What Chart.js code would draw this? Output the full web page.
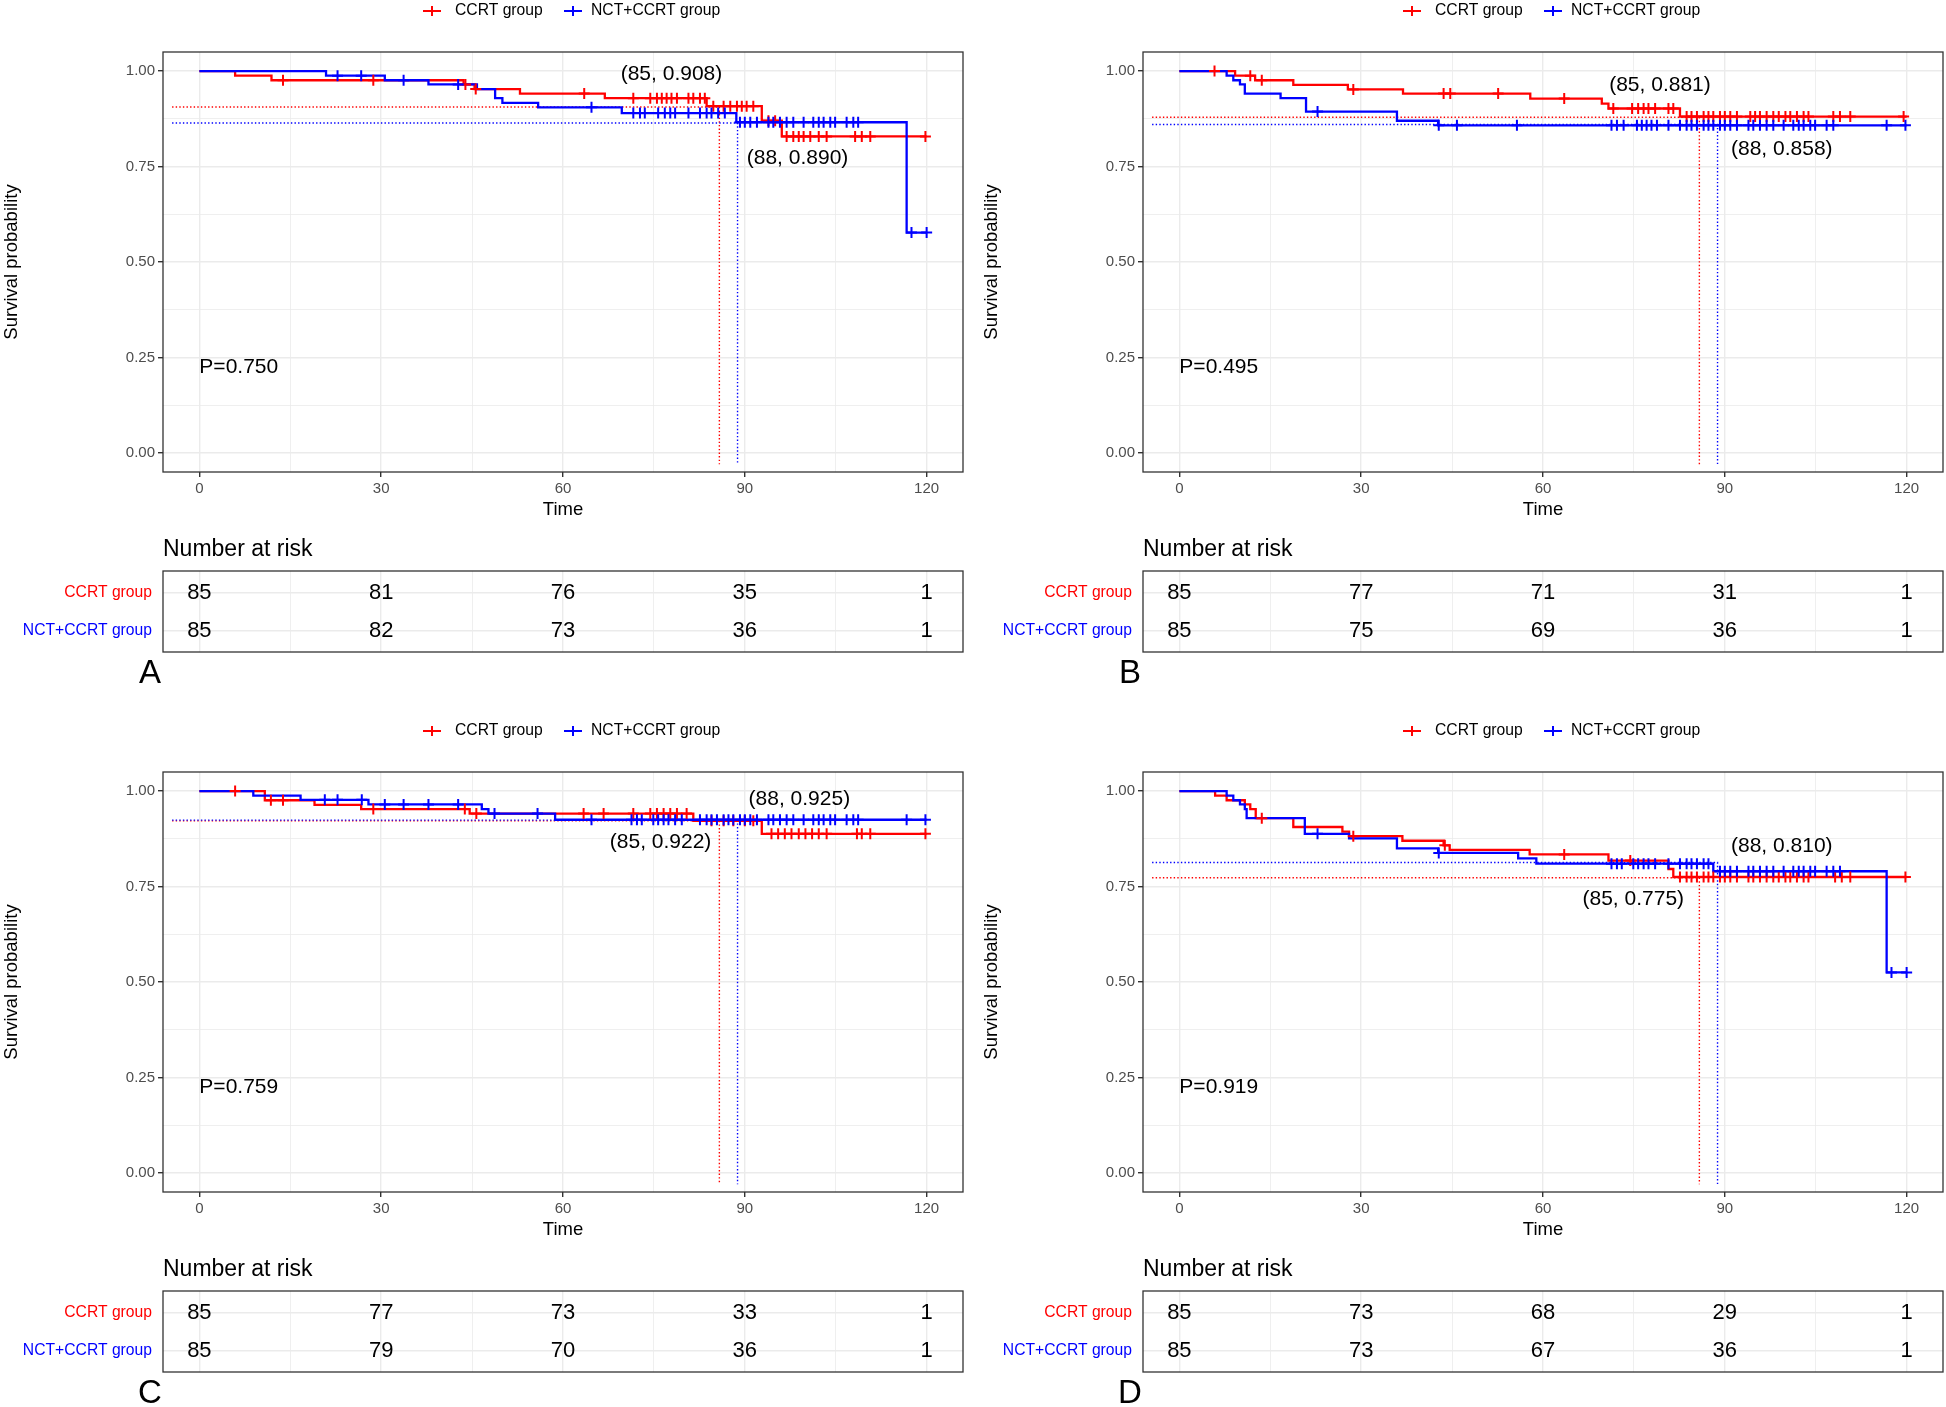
<!DOCTYPE html>
<html>
<head>
<meta charset="utf-8">
<script src="https://cdn.jsdelivr.net/npm/chart.js@4.4.1/dist/chart.umd.min.js"></script>
<style>
  html, body { margin: 0; padding: 0; background: #fff; }
  body { width: 1946px; height: 1407px; position: relative; overflow: hidden; }
  .cell { position: absolute; }
</style>
</head>
<body>
<script>
// ---- shared axis values ----
const xGrid = [0, 15, 30, 45, 60, 75, 90, 105, 120];
const yGrid = [0, 0.125, 0.25, 0.375, 0.5, 0.625, 0.75, 0.875, 1];
const riskTimes = [0, 30, 60, 90, 120];
const groups = ['CCRT group', 'NCT+CCRT group'];

// ---- panel A ----
const aCcrtTime = [0, 5.9, 11.9, 43.6, 45.4, 52.9, 66.9, 83.7, 92.8, 96.1, 120];
const aCcrtSurv = [1, 0.988, 0.976, 0.965, 0.953, 0.941, 0.929, 0.908, 0.870, 0.829, 0.829];
const aCcrtCens = [13.8, 28.7, 43.9, 45.6, 63.5, 71.6, 74.4, 75.5, 76.3, 77.1, 77.9, 78.8, 80.7, 81.5, 82.6, 83.4, 84.8, 86.5, 87.6, 88.7, 89.5, 90.3, 91.4, 93.9, 95.0, 96.9, 98.0, 98.9, 99.7, 100.8, 102.2, 103.5, 108.2, 109.3, 110.7, 119.8];
const aNctTime = [0, 20.9, 30.6, 37.8, 45.8, 48.8, 50.0, 55.9, 69.7, 88.6, 116.7, 120];
const aNctSurv = [1, 0.988, 0.976, 0.965, 0.953, 0.929, 0.917, 0.905, 0.890, 0.866, 0.577, 0.577];
const aNctCens = [22.8, 26.7, 33.7, 42.7, 64.7, 71.6, 72.7, 73.5, 75.7, 76.8, 77.7, 78.5, 80.7, 82.6, 83.7, 84.5, 85.6, 86.7, 89.2, 90.0, 90.9, 92.0, 93.9, 94.7, 95.8, 96.9, 98.0, 99.7, 101.3, 102.2, 103.0, 104.1, 104.9, 106.8, 107.9, 108.7, 117.5, 120];
const aRiskCcrt = [85, 81, 76, 35, 1];
const aRiskNct = [85, 82, 73, 36, 1];
const aRefs = [[85.8, 0.906], [88.8, 0.864]];
const aNotes = [['(85, 0.908)', 77.9, 0.992], ['(88, 0.890)', 98.7, 0.771]];

// ---- panel B ----
const bCcrtTime = [0, 9.2, 12.5, 18.8, 27.8, 36.9, 57.9, 69.7, 70.8, 82.6, 120];
const bCcrtSurv = [1, 0.988, 0.976, 0.964, 0.952, 0.941, 0.928, 0.915, 0.902, 0.881, 0.881];
const bCcrtCens = [5.8, 11.7, 13.6, 28.7, 43.6, 44.7, 52.6, 63.5, 71.6, 74.7, 75.7, 76.6, 77.4, 78.5, 80.7, 81.5, 83.7, 84.5, 85.4, 86.5, 87.3, 88.1, 89.2, 90.0, 90.9, 92.0, 94.2, 95.0, 95.8, 96.9, 98.0, 98.9, 100.0, 100.8, 101.9, 103.0, 103.8, 107.9, 109.0, 110.7, 119.5];
const bNctTime = [0, 7.8, 8.9, 10.0, 10.8, 16.7, 20.9, 35.9, 42.7, 120];
const bNctSurv = [1, 0.988, 0.976, 0.965, 0.941, 0.929, 0.894, 0.870, 0.858, 0.858];
const bNctCens = [22.8, 42.8, 45.8, 55.7, 71.3, 72.2, 73.3, 75.5, 76.3, 77.1, 77.9, 78.8, 80.7, 82.6, 83.7, 84.5, 85.4, 86.5, 87.3, 88.1, 89.2, 90.0, 90.9, 92.0, 93.9, 94.7, 95.8, 96.9, 98.0, 99.7, 101.3, 102.2, 103.0, 104.1, 104.9, 106.8, 107.9, 116.7, 119.8];
const bRiskCcrt = [85, 77, 71, 31, 1];
const bRiskNct = [85, 75, 69, 36, 1];
const bRefs = [[85.8, 0.879], [88.8, 0.860]];
const bNotes = [['(85, 0.881)', 79.3, 0.963], ['(88, 0.858)', 99.4, 0.796]];

// ---- panel C ----
const cCcrtTime = [0, 10.8, 19.0, 26.7, 44.6, 81.5, 92.8, 120];
const cCcrtSurv = [1, 0.976, 0.964, 0.953, 0.941, 0.922, 0.888, 0.888];
const cCcrtCens = [5.9, 11.8, 13.8, 28.7, 43.8, 45.7, 63.4, 66.7, 71.6, 74.4, 75.5, 76.6, 77.7, 78.8, 80.4, 84.5, 86.5, 88.1, 90.0, 91.4, 94.4, 95.5, 96.6, 97.7, 98.9, 100.0, 101.1, 102.2, 103.5, 108.5, 109.3, 110.7, 119.8];
const cNctTime = [0, 8.9, 16.7, 27.9, 46.6, 47.7, 58.7, 120];
const cNctSurv = [1, 0.988, 0.977, 0.965, 0.953, 0.941, 0.925, 0.925];
const cNctCens = [20.7, 22.8, 26.8, 30.6, 33.7, 37.8, 42.7, 48.7, 55.8, 64.7, 71.3, 72.2, 73.0, 74.9, 75.7, 76.6, 77.4, 78.5, 79.6, 82.6, 83.7, 84.5, 85.4, 86.5, 87.3, 88.1, 89.2, 90.0, 90.9, 92.0, 93.9, 94.7, 95.8, 96.9, 98.0, 99.7, 101.3, 102.2, 103.0, 104.1, 104.9, 106.8, 107.9, 108.7, 116.7, 119.8];
const cRiskCcrt = [85, 77, 73, 33, 1];
const cRiskNct = [85, 79, 70, 36, 1];
const cRefs = [[85.8, 0.922], [88.8, 0.924]];
const cNotes = [['(88, 0.925)', 99.0, 0.980], ['(85, 0.922)', 76.1, 0.866]];

// ---- panel D ----
const dCcrtTime = [0, 5.9, 7.8, 10.8, 11.7, 12.6, 18.8, 26.9, 28.0, 36.8, 43.6, 44.6, 57.8, 70.8, 80.7, 81.5, 120];
const dCcrtSurv = [1, 0.988, 0.976, 0.965, 0.953, 0.929, 0.906, 0.894, 0.882, 0.870, 0.858, 0.846, 0.834, 0.818, 0.796, 0.775, 0.775];
const dCcrtCens = [13.6, 28.7, 43.8, 63.5, 74.4, 82.6, 83.7, 84.5, 85.4, 86.5, 87.3, 88.1, 89.2, 90.0, 90.9, 92.0, 93.9, 94.7, 95.8, 96.9, 98.0, 98.9, 100.0, 100.8, 101.9, 103.0, 103.8, 108.2, 109.3, 110.7, 119.8];
const dNctTime = [0, 7.8, 8.9, 10.0, 10.8, 11.1, 20.7, 28.0, 35.9, 42.7, 55.9, 58.9, 88.1, 116.7, 120];
const dNctSurv = [1, 0.988, 0.976, 0.965, 0.953, 0.929, 0.888, 0.876, 0.850, 0.838, 0.824, 0.810, 0.790, 0.525, 0.525];
const dNctCens = [22.8, 42.8, 71.3, 72.2, 73.0, 74.9, 75.7, 76.6, 77.4, 78.5, 80.7, 82.6, 83.7, 84.5, 85.4, 86.5, 87.3, 89.2, 90.0, 90.9, 92.0, 93.9, 94.7, 95.8, 96.9, 98.0, 99.7, 101.3, 102.2, 103.0, 104.1, 104.9, 106.8, 107.9, 109.0, 117.5, 120];
const dRiskCcrt = [85, 73, 68, 29, 1];
const dRiskNct = [85, 73, 67, 36, 1];
const dRefs = [[85.8, 0.773], [88.8, 0.813]];
const dNotes = [['(88, 0.810)', 99.4, 0.855], ['(85, 0.775)', 74.9, 0.718]];

const FONT = '"Liberation Sans", Arial, sans-serif';
Chart.defaults.font.family = FONT;
const RED = '#FF0000', BLUE = '#0000FF', GRID = '#EBEBEB';

const panels = [
  { tag: 'A', left: 0,   top: 0,   p: 'P=0.750', ccrt: [aCcrtTime, aCcrtSurv, aCcrtCens], nct: [aNctTime, aNctSurv, aNctCens], risk: [aRiskCcrt, aRiskNct], refs: aRefs, notes: aNotes },
  { tag: 'B', left: 980, top: 0,   p: 'P=0.495', ccrt: [bCcrtTime, bCcrtSurv, bCcrtCens], nct: [bNctTime, bNctSurv, bNctCens], risk: [bRiskCcrt, bRiskNct], refs: bRefs, notes: bNotes },
  { tag: 'C', left: 0,   top: 720, p: 'P=0.759', ccrt: [cCcrtTime, cCcrtSurv, cCcrtCens], nct: [cNctTime, cNctSurv, cNctCens], risk: [cRiskCcrt, cRiskNct], refs: cRefs, notes: cNotes },
  { tag: 'D', left: 980, top: 720, p: 'P=0.919', ccrt: [dCcrtTime, dCcrtSurv, dCcrtCens], nct: [dNctTime, dNctSurv, dNctCens], risk: [dRiskCcrt, dRiskNct], refs: dRefs, notes: dNotes }
];

// survival value in force at time t
function stepAt(time, surv, t) {
  let v = surv[0];
  for (let i = 0; i < time.length; i++) if (time[i] <= t) v = surv[i];
  return v;
}
const curve = g => g[0].map((t, i) => ({ x: t, y: g[1][i] }));
const cens = g => g[2].map(t => ({ x: t, y: stepAt(g[0], g[1], t) }));
const ref = r => [{ x: -4.5, y: r[1] }, { x: r[0], y: r[1] }, { x: r[0], y: -0.03 }];

const isMajorX = v => v % 30 === 0;
const isMajorY = v => Math.abs(v * 4 - Math.round(v * 4)) < 1e-6;

function addCanvas(left, top, w, h) {
  const d = document.createElement('div');
  d.className = 'cell';
  d.style.left = left + 'px'; d.style.top = top + 'px';
  d.style.width = w + 'px'; d.style.height = h + 'px';
  const c = document.createElement('canvas');
  c.width = w; c.height = h;
  d.appendChild(c);
  document.body.appendChild(d);
  return c;
}

function crossMark(ctx, x, y, r, color) {
  ctx.strokeStyle = color; ctx.lineWidth = 2;
  ctx.beginPath();
  ctx.moveTo(x - 9, y); ctx.lineTo(x + 9, y);
  ctx.moveTo(x, y - r); ctx.lineTo(x, y + r);
  ctx.stroke();
}

function makePlot(pn) {
  const cv = addCanvas(pn.left, pn.top, 975, 525);
  const deco = {
    id: 'kmDeco',
    afterDraw(chart) {
      const { ctx, chartArea: a, scales: { x, y } } = chart;
      ctx.save();
      ctx.strokeStyle = '#333333'; ctx.lineWidth = 1.3;
      ctx.strokeRect(a.left, a.top, a.right - a.left, a.bottom - a.top);
      ctx.fillStyle = '#000';
      ctx.font = '21px ' + FONT;
      ctx.textBaseline = 'middle';
      ctx.textAlign = 'center';
      pn.notes.forEach(n => ctx.fillText(n[0], x.getPixelForValue(n[1]), y.getPixelForValue(n[2])));
      ctx.textAlign = 'left';
      ctx.fillText(pn.p, x.getPixelForValue(0), y.getPixelForValue(0.225));
      // legend
      ctx.font = '15.7px ' + FONT;
      crossMark(ctx, 432, 11, 5, RED);
      ctx.fillText(groups[0], 455, 11);
      crossMark(ctx, 573, 11, 5, BLUE);
      ctx.fillText(groups[1], 591, 11);
      ctx.restore();
    }
  };
  new Chart(cv, {
    type: 'line',
    data: {
      datasets: [
        { data: cens(pn.nct), showLine: false, pointStyle: 'cross', pointRadius: 5.5, pointBorderWidth: 2, borderColor: BLUE, backgroundColor: BLUE },
        { data: cens(pn.ccrt), showLine: false, pointStyle: 'cross', pointRadius: 5.5, pointBorderWidth: 2, borderColor: RED, backgroundColor: RED },
        { data: curve(pn.nct), stepped: true, borderColor: BLUE, borderWidth: 2.3, pointRadius: 0, fill: false },
        { data: curve(pn.ccrt), stepped: true, borderColor: RED, borderWidth: 2.3, pointRadius: 0, fill: false },
        { data: ref(pn.refs[1]), borderColor: BLUE, borderWidth: 1.4, borderDash: [1.4, 2.2], pointRadius: 0, fill: false },
        { data: ref(pn.refs[0]), borderColor: RED, borderWidth: 1.4, borderDash: [1.4, 2.2], pointRadius: 0, fill: false }
      ]
    },
    options: {
      responsive: false, animation: false, events: [],
      layout: { padding: { top: 52, right: 12, left: 0, bottom: 0 } },
      plugins: { legend: { display: false }, tooltip: { enabled: false } },
      scales: {
        x: {
          type: 'linear', min: -6, max: 126,
          afterBuildTicks: s => { s.ticks = xGrid.map(v => ({ value: v })); },
          afterFit: s => { s.height = 53; },
          border: { display: false },
          grid: {
            color: GRID, drawTicks: true, tickLength: 5,
            lineWidth: c => (c.tick && isMajorX(c.tick.value)) ? 1.4 : 0.8,
            tickColor: c => (c.tick && isMajorX(c.tick.value)) ? '#333333' : 'rgba(0,0,0,0)'
          },
          ticks: { autoSkip: false, maxRotation: 0, padding: 3, color: '#4D4D4D', font: { size: 15 },
                   callback: v => isMajorX(v) ? String(v) : '' },
          title: { display: true, text: 'Time', color: '#000', font: { size: 18.5 }, padding: { top: 0, bottom: 4 } }
        },
        y: {
          type: 'linear', min: -0.05, max: 1.05,
          afterBuildTicks: s => { s.ticks = yGrid.map(v => ({ value: v })); },
          afterFit: s => { s.width = 163; },
          border: { display: false },
          grid: {
            color: GRID, drawTicks: true, tickLength: 5,
            lineWidth: c => (c.tick && isMajorY(c.tick.value)) ? 1.4 : 0.8,
            tickColor: c => (c.tick && isMajorY(c.tick.value)) ? '#333333' : 'rgba(0,0,0,0)'
          },
          ticks: { autoSkip: false, padding: 3, color: '#4D4D4D', font: { size: 15 },
                   callback: v => isMajorY(v) ? v.toFixed(2) : '' },
          title: { display: true, text: 'Survival probability', color: '#000', font: { size: 18.5 }, padding: { top: 1, bottom: 0 } }
        }
      }
    },
    plugins: [deco]
  });
}

function makeTable(pn) {
  const cv = addCanvas(pn.left, pn.top + 525, 975, 165);
  const deco = {
    id: 'riskDeco',
    afterDraw(chart) {
      const { ctx, chartArea: a, scales: { x, y } } = chart;
      ctx.save();
      ctx.strokeStyle = '#333333'; ctx.lineWidth = 1.3;
      ctx.strokeRect(a.left, a.top, a.right - a.left, a.bottom - a.top);
      ctx.fillStyle = '#000';
      ctx.textBaseline = 'middle';
      ctx.font = '22px ' + FONT;
      ctx.textAlign = 'center';
      riskTimes.forEach((t, j) => {
        ctx.fillText(String(pn.risk[0][j]), x.getPixelForValue(t), y.getPixelForValue(1.5));
        ctx.fillText(String(pn.risk[1][j]), x.getPixelForValue(t), y.getPixelForValue(0.5));
      });
      ctx.textAlign = 'left';
      ctx.font = '23px ' + FONT;
      ctx.fillText('Number at risk', a.left, 25);
      ctx.textAlign = 'center';
      ctx.font = '33px ' + FONT;
      ctx.fillText(pn.tag, 150, 149);
      ctx.restore();
    }
  };
  new Chart(cv, {
    type: 'line',
    data: { datasets: [] },
    options: {
      responsive: false, animation: false, events: [],
      layout: { padding: { top: 46, right: 12, left: 0, bottom: 38 } },
      plugins: { legend: { display: false }, tooltip: { enabled: false } },
      scales: {
        x: {
          type: 'linear', min: -6, max: 126,
          afterBuildTicks: s => { s.ticks = xGrid.map(v => ({ value: v })); },
          afterFit: s => { s.height = 0; },
          border: { display: false },
          ticks: { display: false },
          grid: { color: GRID, drawTicks: false, lineWidth: c => (c.tick && isMajorX(c.tick.value)) ? 1.4 : 0.8 }
        },
        y: {
          type: 'linear', min: -0.05, max: 2.08,
          afterBuildTicks: s => { s.ticks = [{ value: 0.5 }, { value: 1.5 }]; },
          afterFit: s => { s.width = 163; },
          border: { display: false },
          grid: { color: GRID, drawTicks: false, lineWidth: 1.4 },
          ticks: { autoSkip: false, padding: 11, font: { size: 15.7 },
                   color: c => (c.tick && c.tick.value > 1) ? RED : BLUE,
                   callback: v => v > 1 ? groups[0] : groups[1] }
        }
      }
    },
    plugins: [deco]
  });
}

panels.forEach(pn => { makePlot(pn); makeTable(pn); });
</script>
</body>
</html>
